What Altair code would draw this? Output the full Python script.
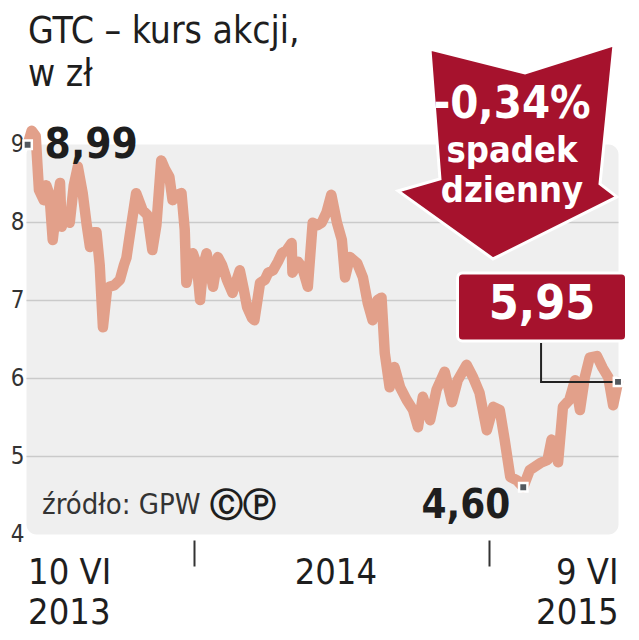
import altair as alt
import pandas as pd

# ---------------- data ----------------
start_date = "2013-06-10"
day_offsets = [0, 5, 10, 14, 20, 23, 27, 31, 36, 40,
               42, 47, 52, 57, 62, 68, 73, 77, 82, 85,
               89, 93, 98, 101, 107, 114, 119, 122, 128, 134,
               142, 148, 154, 159, 165, 170, 175, 179, 185, 190,
               194, 196, 204, 209, 213, 217, 221, 229, 235, 240,
               246, 253, 262, 267, 271, 277, 280, 287, 293, 297,
               303, 309, 314, 320, 326, 327, 334, 339, 346, 352,
               358, 363, 369, 375, 382, 388, 392, 398, 407, 414,
               420, 426, 432, 437, 441, 447, 453, 460, 468, 476,
               482, 488, 497, 505, 515, 524, 531, 542, 550, 558,
               567, 575, 583, 589, 596, 604, 612, 620, 633, 642,
               647, 655, 661, 669, 676, 682, 688, 694, 703, 710,
               717, 723, 729]
prices = [8.99, 9.17, 9.10, 8.41, 8.28, 8.47, 8.35, 7.77, 8.22, 8.50,
          7.94, 8.09, 7.99, 8.47, 8.71, 8.37, 7.96, 7.68, 7.87, 7.87,
          7.45, 6.65, 7.13, 7.17, 7.19, 7.26, 7.45, 7.54, 7.96, 8.37,
          8.15, 8.09, 7.64, 7.96, 8.79, 8.67, 8.58, 8.28, 8.35, 8.37,
          7.90, 7.22, 7.60, 7.45, 7.00, 7.45, 7.60, 7.17, 7.55, 7.45,
          7.26, 7.09, 7.38, 7.13, 6.91, 6.77, 6.74, 7.22, 7.26, 7.35,
          7.38, 7.49, 7.60, 7.64, 7.73, 7.35, 7.49, 7.42, 7.17, 7.99,
          7.96, 7.99, 8.12, 8.35, 7.99, 7.77, 7.29, 7.55, 7.47, 7.29,
          6.96, 6.74, 7.00, 7.03, 6.32, 5.88, 6.14, 5.88, 5.72, 5.59,
          5.37, 5.76, 5.46, 5.85, 6.08, 5.69, 5.97, 6.17, 6.01, 5.81,
          5.33, 5.63, 5.59, 5.21, 4.73, 4.69, 4.60, 4.82, 4.91, 4.95,
          5.21, 4.92, 5.63, 5.72, 5.97, 5.59, 6.01, 6.26, 6.28, 6.13,
          6.01, 5.65, 5.95]

title_lines = ["GTC – kurs akcji,", "w zł"]
source_text = "źródło: GPW"
source_marks = "ⒸⓅ"
change_text = "-0,34%"
change_sub = ["spadek", "dzienny"]
y_ticks = [4, 5, 6, 7, 8, 9]
x_tick_dates = [(2013, 6, 10), (2014, 1, 1), (2014, 6, 25), (2015, 1, 1), (2015, 6, 9)]
x_domain = [(2013, 6, 8), (2015, 6, 9)]

# ---------------- tables ----------------
dates = pd.Timestamp(start_date) + pd.to_timedelta(day_offsets, unit="D")
df = pd.DataFrame({"date": dates.strftime("%Y-%m-%d"), "price": prices})


def fmt(v):
    return f"{v:.2f}".replace(".", ",")


df["label"] = df["price"].map(fmt)
first_row = df.iloc[[0]]
min_row = df.loc[[df["price"].idxmin()]]
last_row = df.iloc[[-1]]
markers = pd.concat([first_row, min_row, last_row])

end_ts = pd.Timestamp(df["date"].iloc[-1])
conn_ts = (end_ts - pd.Timedelta(days=95)).strftime("%Y-%m-%d")
end_price = df["price"].iloc[-1]
connector = pd.DataFrame({
    "date": [conn_ts, conn_ts, df["date"].iloc[-1]],
    "price": [6.45, end_price, end_price],
    "o": [0, 1, 2],
})

# ---------------- style ----------------
F_LIGHT = "DejaVu Sans Condensed, Roboto, sans-serif"
F_BOLD = "DejaVu Sans Condensed, Roboto, sans-serif"
LINE = "#E2A08A"
RED = "#A6122D"
INK = "#1e1e1e"


def dt(t):
    return alt.DateTime(year=t[0], month=t[1], date=t[2], utc=True)


xscale = alt.Scale(type="utc", domain=[dt(t) for t in x_domain])
yscale = alt.Scale(domain=[4, 9], nice=False, zero=False)

xaxis = alt.Axis(
    values=[dt(t) for t in x_tick_dates],
    labelExpr=("datum.index == 0 ? ['10 VI','2013'] : (datum.index == 1 ? ['9 VI','2015'] : "
               "(datum.index == 0.5 ? '2014' : ''))"),
    tickOpacity={"condition": {"test": "datum.index == 0.25 || datum.index == 0.75", "value": 1},
                 "value": 0},
    tickSize=26, tickWidth=2, tickColor="#333333", offset=6,
    domain=False, grid=False, title=None, labelOverlap=False, labelFlush=8,
    labelFont=F_LIGHT, labelFontSize=36, labelColor=INK,
    labelBaseline="alphabetic", labelLineHeight=40, labelPadding=17,
)
yaxis = alt.Axis(
    values=y_ticks, ticks=False, domain=False, title=None,
    grid=True, gridColor="#cacaca", gridWidth=1.5,
    gridOpacity={"condition": {"test": "datum.value == 4 || datum.value == 9", "value": 0},
                 "value": 1},
    labelFont=F_LIGHT, labelFontSize=24, labelColor="#333333", labelPadding=2,
)

X = alt.X("date:T", scale=xscale, axis=xaxis)
Y = alt.Y("price:Q", scale=yscale, axis=yaxis)

line = alt.Chart(df).mark_line(
    color=LINE, strokeWidth=10.5, strokeJoin="round", strokeCap="round", clip=False
).encode(x=X, y=Y)

conn = alt.Chart(connector).mark_line(color="#222222", strokeWidth=2).encode(
    x=X, y=Y, order="o:O")

pts = alt.Chart(markers).mark_point(
    shape="square", filled=True, size=70, fill="#53585e", stroke="white",
    strokeWidth=2.5, opacity=1
).encode(x=X, y=Y)

t_first = alt.Chart(first_row).mark_text(
    align="left", baseline="alphabetic", dx=17, dy=13, font=F_BOLD,
    fontSize=42, fontWeight="bold", color=INK
).encode(x=X, y=Y, text="label:N")

t_min = alt.Chart(min_row).mark_text(
    align="right", baseline="alphabetic", dx=-13, dy=31, font=F_BOLD,
    fontSize=40, fontWeight="bold", color=INK
).encode(x=X, y=Y, text="label:N")

box = alt.Chart(last_row).mark_rect(
    width=169, height=68, xOffset=-76, yOffset=-75, cornerRadius=5,
    fill=RED, stroke="white", strokeWidth=3
).encode(x=X, y=Y)

t_last = alt.Chart(last_row).mark_text(
    align="center", baseline="alphabetic", dx=-76, dy=-63, font=F_BOLD,
    fontSize=48, fontWeight="bold", color="white"
).encode(x=X, y=Y, text="label:N")

ARROW = ("M -0.705 -0.936 L 0.159 -0.718 L 0.968 -0.973 L 0.841 0.291 "
         "L 0.995 0.409 L -0.132 0.973 L -0.995 0.355 L -0.614 0.245 Z")
arrow = alt.Chart(last_row).mark_point(
    shape=ARROW, size=48400, filled=True, fill=RED, stroke="white",
    strokeWidth=3, opacity=1, xOffset=-110.5, yOffset=-230
).encode(x=X, y=Y)

t_change = alt.Chart(last_row).mark_text(
    text=change_text, align="center", baseline="alphabetic", dx=-106, dy=-264,
    font=F_BOLD, fontSize=45, fontWeight="bold", color="white"
).encode(x=X, y=Y)

t_sub = alt.Chart(last_row).mark_text(
    text=change_sub, align="center", baseline="alphabetic", dx=-106, dy=-220,
    lineHeight=40, font=F_BOLD, fontSize=36, fontWeight="bold", color="white"
).encode(x=X, y=Y)

one = pd.DataFrame({"k": [0]})
title = alt.Chart(one).mark_text(
    text=title_lines, align="left", baseline="alphabetic", lineHeight=43,
    font=F_LIGHT, fontSize=37, color=INK
).encode(x=alt.value(2), y=alt.value(-101))

src = alt.Chart(one).mark_text(
    text=source_text, align="left", baseline="alphabetic",
    font=F_LIGHT, fontSize=29, color="#333333"
).encode(x=alt.value(16), y=alt.value(370))

src2 = alt.Chart(one).mark_text(
    text=source_marks, align="left", baseline="alphabetic",
    font="DejaVu Sans", fontSize=33, fontWeight="bold", color=INK
).encode(x=alt.value(184), y=alt.value(372))

chart = alt.layer(
    line, conn, pts, t_first, t_min, box, t_last, arrow, t_change, t_sub,
    title, src, src2
).properties(
    width=592, height=390, autosize="none",
    padding={"left": 18, "top": 136, "right": 13, "bottom": 98},
).configure(background="white").configure_view(
    fill="#efefef", strokeOpacity=0, cornerRadius=10
)

chart.save("out.html", embed_options={"renderer": "svg", "actions": False})
